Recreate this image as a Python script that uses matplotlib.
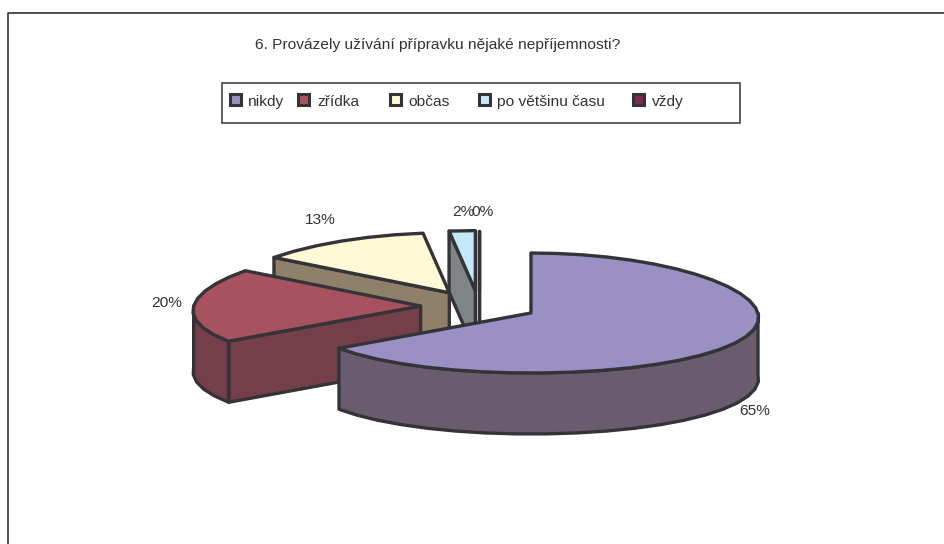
import numpy as np
import matplotlib
matplotlib.use("Agg")
import matplotlib.pyplot as plt
from matplotlib.patches import Polygon, Rectangle

plt.rcParams['font.family'] = ['Liberation Sans', 'DejaVu Sans']

title = "6. Provázely užívání přípravku nějaké nepříjemnosti?"
categories = ["nikdy", "zřídka", "občas", "po většinu času", "vždy"]
values = [65, 20, 13, 2, 0]
top_colors = ["#9A90C4", "#A85260", "#FFFAD5", "#C5E9F8", "#7F2A52"]
wall_colors = ["#6B5B6F", "#753F49", "#8F8069", "#7F8585", "#4A3040"]
legend_colors = ["#9A90C4", "#A85260", "#FFFAD5", "#C5E9F8", "#7F2A52"]

CX, CY = 479, 306
RX, RY = 227, 60
DEPTH = 61
EXPLODE = 0.257
PERSP = 0.077
EDGE = "#333338"
LW = 2.4
TXT = "#333333"
FS = 11.15
STEP = np.radians(7)

label_pos = [(755, 411), (167, 303), (320, 220), (463, 212), (482, 212)]
legend_marker_x = [235, 303, 395, 484, 638]
legend_text_x = [248, 317, 408, 497, 652]

fig = plt.figure(figsize=(9.45, 5.44), dpi=100)
ax = fig.add_axes([0, 0, 1, 1])
ax.set_xlim(0, 945)
ax.set_ylim(544, 0)
ax.axis("off")

# chart frame: only the top and left edges fall inside the picture
ax.plot([7.5, 7.5, 945], [544, 13, 13], color="#333333", lw=1.2, zorder=1)


def proj(t):
    return RX * np.sin(t) * (1 - PERSP * np.cos(t)), -RY * np.cos(t)


shares = np.array(values, float) / sum(values) * 2 * np.pi
ends = np.cumsum(shares)
starts = ends - shares

z = 10
for i in range(len(values) - 1, -1, -1):
    a0, a1 = starts[i], ends[i]
    mid = (a0 + a1) / 2
    ax0 = CX + EXPLODE * RX * np.sin(mid)
    ay0 = CY - EXPLODE * RY * np.cos(mid)
    kw = dict(ec=EDGE, lw=LW, joinstyle="round")
    n = max(2, int((a1 - a0) / STEP) + 1)
    tt = np.linspace(a0, a1, n)
    px, py = proj(tt)
    px, py = ax0 + px, ay0 + py
    # radial wall at the slice end (faces the viewer for the slices on the left)
    if i > 0 and a0 > np.pi:
        ex, ey = proj(a0)
        ax.add_patch(Polygon([(ax0, ay0), (ax0 + ex, ay0 + ey),
                              (ax0 + ex, ay0 + ey + DEPTH), (ax0, ay0 + DEPTH)],
                             fc=wall_colors[i], zorder=z, **kw))
        z += 1
    # outer wall, visible only on the front half
    lo, hi = max(a0, np.pi / 2), min(a1, 3 * np.pi / 2)
    if hi > lo:
        tw = np.linspace(lo, hi, max(2, int((hi - lo) / STEP) + 1))
        wx, wy = proj(tw)
        wx, wy = ax0 + wx, ay0 + wy
        pts = list(zip(wx, wy)) + list(zip(wx[::-1], wy[::-1] + DEPTH))
        ax.add_patch(Polygon(pts, fc=wall_colors[i], zorder=z, **kw))
        z += 1
    # top face
    pts = [(ax0, ay0)] + list(zip(px, py))
    ax.add_patch(Polygon(pts, fc=top_colors[i], zorder=z, **kw))
    z += 1
    ax.text(*label_pos[i], f"{values[i]}%", ha="center", va="center",
            fontsize=FS, color=TXT, zorder=100)

ax.text(255, 45, title, ha="left", va="center", fontsize=FS, color=TXT, zorder=100)

ax.add_patch(Rectangle((222, 83), 518, 40, fc="white", ec="#333333", lw=1.1, zorder=50))
for c, mx, tx, col in zip(categories, legend_marker_x, legend_text_x, legend_colors):
    ax.add_patch(Rectangle((mx - 5.5, 93.5), 11, 11, fc=col, ec=EDGE, lw=2.2, zorder=60))
    ax.text(tx, 102, c, ha="left", va="center", fontsize=FS, color=TXT, zorder=100)

fig.savefig("out.png", dpi=100)
